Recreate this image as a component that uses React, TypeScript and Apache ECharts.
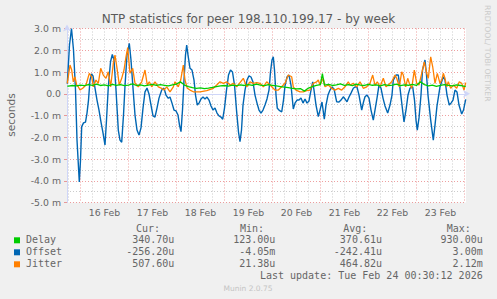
import React, { useEffect, useRef } from "react";
import * as echarts from "echarts";

// hours since 15 Feb 00:00, values in milliseconds
const offsetData: [number, number][] = [
  [17.45,0.46],[18.55,2.24],[19.55,3.0],[20.55,2.01],[21.55,0.17],[22.3,-2.13],[23.45,-4.05],[24.05,-3.05],[24.65,-1.51],[25.55,-1.34],[26.55,-1.3],[27.3,-0.89],[28.05,-0.29],[28.8,0.63],[29.55,0.91],[30.3,0.82],[31.3,0.26],[32.3,-0.29],[33.3,-0.75],[34.3,-1.3],[35.3,-1.8],[36.3,-2.36],[37.05,-1.21],[37.95,0.32],[39.05,1.46],[39.95,1.81],[40.8,1.55],[41.8,0.17],[42.95,-1.67],[43.8,-2.13],[44.65,-2.23],[45.55,-0.98],[46.3,0.36],[47.3,1.78],[48.45,2.32],[49.3,1.55],[50.3,0.26],[51.3,-0.98],[52.3,-1.67],[53.3,-1.9],[54.3,-1.57],[55.3,-0.66],[56.3,0.09],[57.3,0.26],[58.3,-0.01],[59.3,-0.52],[60.3,-1.02],[61.3,-1.07],[62.3,-0.66],[63.3,-0.2],[64.65,0.17],[65.8,0.26],[66.8,-0.06],[67.95,-0.21],[68.8,-0.15],[69.8,-0.43],[70.8,-0.75],[71.8,-0.79],[72.8,-0.98],[73.55,-1.44],[74.3,-1.74],[75.05,-0.75],[75.8,0.63],[76.55,1.78],[77.15,2.24],[77.8,1.78],[78.8,1.17],[79.8,1.09],[80.8,0.63],[81.55,-0.06],[82.45,-0.52],[83.3,-0.43],[84.3,-0.24],[85.3,-0.15],[86.3,-0.24],[87.3,-0.15],[88.3,-0.29],[89.3,-0.56],[90.3,-0.75],[91.3,-0.66],[92.3,-0.89],[93.3,-1.02],[94.3,-1.07],[95.15,-1.17],[96.05,-0.66],[97.05,0.17],[98.05,0.86],[99.05,1.09],[100.05,1.0],[101.05,0.4],[102.05,-0.75],[103.05,-1.76],[103.8,-2.2],[104.55,-1.67],[105.3,-0.52],[106.3,0.17],[107.3,0.63],[108.3,0.82],[109.3,0.77],[110.3,0.54],[111.3,-0.06],[112.3,-0.43],[113.3,-0.75],[114.3,-0.89],[115.3,-0.75],[116.3,-0.52],[117.3,-0.24],[118.3,0.17],[119.05,1.0],[119.8,1.55],[120.45,1.7],[121.05,1.09],[121.8,-0.06],[122.45,-0.67],[123.3,-0.75],[124.65,-0.84],[125.55,-0.29],[126.3,0.36],[127.3,0.77],[128.3,0.86],[129.3,0.4],[130.45,-0.7],[131.3,-0.43],[132.3,-0.29],[133.3,-0.29],[134.3,-0.2],[135.3,-0.43],[136.3,-0.24],[137.3,-0.43],[138.3,-0.33],[139.3,0.17],[140.15,0.55],[140.8,0.17],[141.8,-0.52],[142.95,-1.05],[143.8,-0.75],[144.8,-0.38],[145.95,-1.17],[146.8,-0.52],[147.8,-0.06],[148.8,0.17],[149.8,0.31],[150.8,0.22],[152.15,-0.37],[153.3,-0.38],[154.3,-0.29],[155.45,-0.14],[156.3,-0.24],[157.3,-0.37],[158.3,-0.15],[159.3,0.03],[160.45,0.25],[161.3,0.31],[162.3,0.32],[163.3,-0.06],[164.65,-0.75],[165.55,-0.38],[166.3,-0.14],[167.3,-0.06],[168.3,-0.2],[169.3,-0.75],[170.45,-1.21],[171.3,-0.75],[172.3,-0.2],[173.3,0.4],[174.3,0.26],[175.3,-0.2],[176.3,-0.56],[177.65,-0.89],[178.8,-0.52],[179.8,-0.06],[180.45,0.63],[181.8,0.86],[182.95,0.86],[183.8,0.26],[184.8,-0.52],[185.8,-1.29],[186.8,-0.75],[187.8,-0.06],[188.8,0.26],[190.15,0.32],[191.05,-0.29],[191.8,-1.21],[192.45,-1.67],[193.3,-1.11],[194.3,-0.06],[195.05,1.09],[196.3,1.55],[197.05,0.86],[197.8,-0.06],[199.15,-1.21],[200.45,-2.13],[201.3,-1.44],[202.3,-0.56],[203.8,0.32],[205.45,0.78],[206.3,0.63],[207.3,-0.06],[208.45,-0.52],[209.3,-0.43],[210.3,-0.29],[211.3,0.17],[212.3,0.08],[213.3,-0.52],[214.65,-0.93],[215.55,-0.75],[216.65,-0.26]
];

const jitterData: [number, number][] = [
  [17.45,0.48],[18.8,1.32],[19.65,1.09],[20.45,0.55],[21.3,0.78],[22.15,0.4],[22.95,0.32],[23.8,0.17],[25.15,0.25],[26.8,0.4],[28.45,0.94],[29.65,0.78],[30.45,0.32],[31.8,0.63],[32.95,0.48],[34.15,1.17],[35.45,0.86],[36.8,0.71],[37.95,1.01],[39.15,0.32],[40.45,1.4],[41.3,1.78],[42.45,1.09],[43.45,0.4],[44.65,0.71],[45.8,1.09],[46.8,1.7],[47.65,2.12],[48.8,0.94],[50.15,1.17],[51.3,0.48],[52.95,0.32],[54.65,0.55],[56.3,1.09],[57.45,0.4],[58.45,0.55],[59.65,0.32],[61.3,0.55],[62.95,0.32],[64.65,0.25],[65.8,0.17],[67.15,0.32],[68.8,0.09],[70.45,0.32],[71.3,0.55],[72.95,0.32],[74.15,0.63],[75.45,1.32],[76.3,0.63],[77.45,0.25],[78.8,0.17],[80.45,0.09],[83.8,0.09],[87.15,0.14],[90.45,0.25],[92.15,0.4],[93.8,0.55],[95.45,0.48],[97.15,0.55],[98.8,0.4],[100.45,0.48],[102.15,0.32],[105.45,0.71],[107.15,0.32],[108.8,0.55],[110.45,0.48],[112.15,0.51],[113.8,0.48],[115.45,0.32],[117.15,0.55],[118.8,0.4],[121.3,0.17],[122.95,0.17],[124.65,0.32],[126.3,0.48],[127.95,0.86],[129.65,0.78],[130.45,0.32],[131.8,0.17],[133.8,0.09],[135.45,0.09],[137.15,0.14],[138.8,0.17],[140.45,0.48],[142.15,0.55],[142.95,0.63],[143.8,0.4],[145.45,0.71],[146.3,0.32],[147.95,0.4],[149.65,0.25],[151.3,0.17],[152.95,0.25],[154.65,0.17],[156.3,0.32],[157.95,0.55],[158.8,0.4],[160.45,0.48],[162.15,0.32],[163.8,0.55],[165.45,0.25],[167.15,0.32],[168.8,0.48],[170.15,0.86],[171.3,0.4],[172.45,0.55],[173.8,0.32],[175.45,0.71],[176.8,0.32],[177.95,0.4],[179.65,0.55],[181.3,0.86],[182.15,0.71],[183.45,0.32],[184.65,1.01],[185.45,0.86],[186.65,0.32],[187.65,0.71],[188.45,0.48],[189.65,0.25],[190.95,1.09],[192.15,0.48],[193.3,0.4],[194.65,0.94],[195.95,1.47],[197.15,0.94],[197.95,0.71],[199.15,1.7],[200.15,1.24],[201.3,0.48],[202.45,0.94],[203.8,0.48],[204.65,0.63],[205.45,0.94],[206.3,0.71],[207.15,0.32],[207.95,0.55],[209.15,0.25],[210.45,0.4],[212.15,0.25],[213.45,0.55],[214.65,0.48],[215.8,0.17],[216.65,0.51]
];

const delayData: [number, number][] = [
  [17.45,0.35],[18,0.35],[20,0.38],[22,0.36],[24,0.40],[26,0.37],[28,0.42],[30,0.39],[32,0.44],[34,0.38],[36,0.41],[38,0.36],[40,0.43],[42,0.39],[44,0.42],[46,0.37],[48,0.40],[50,0.45],[52,0.38],[54,0.41],[56,0.36],[58,0.40],[60,0.43],[62,0.38],[64,0.42],[66,0.39],[68,0.36],[70,0.41],[72,0.44],[74,0.55],[76,0.40],[78,0.33],[80,0.28],[82,0.25],[84,0.27],[86,0.24],[88,0.26],[90,0.29],[92,0.33],[94,0.36],[96,0.38],[98,0.35],[100,0.40],[102,0.37],[104,0.41],[106,0.38],[108,0.42],[110,0.39],[112,0.44],[114,0.40],[116,0.37],[118,0.42],[120,0.39],[122,0.36],[124,0.33],[126,0.30],[128,0.28],[130,0.25],[132,0.22],[134,0.24],[136,0.12],[138,0.26],[140,0.33],[142,0.38],[144,0.42],[145,0.93],[146,0.40],[148,0.43],[150,0.38],[152,0.41],[154,0.45],[156,0.39],[158,0.42],[160,0.37],[162,0.44],[164,0.40],[166,0.38],[168,0.43],[170,0.39],[172,0.41],[174,0.36],[176,0.42],[178,0.38],[180,0.40],[182,0.44],[184,0.37],[186,0.41],[188,0.39],[190,0.43],[192,0.38],[194,0.55],[196,0.42],[198,0.36],[200,0.40],[202,0.34],[204,0.38],[206,0.42],[208,0.39],[210,0.36],[212,0.41],[214,0.38],[216,0.34],[216.65,0.34]
];

const dayLabels = ["16 Feb", "17 Feb", "18 Feb", "19 Feb", "20 Feb", "21 Feb", "22 Feb", "23 Feb"];
const labelHours = [36, 60, 84, 108, 132, 156, 180, 204];
const majorHours = [24, 48, 72, 96, 120, 144, 168, 192, 216];
const minorHours = [18, 30, 36, 42, 54, 60, 66, 78, 84, 90, 102, 108, 114, 126, 132, 138, 150, 156, 162, 174, 180, 186, 198, 204, 210];

const legendNames = ["Delay", "Offset", "Jitter"];
const legendColors = ["#00CC00", "#0066B3", "#FF8000"];
const curValues = ["340.70u", "-256.20u", "507.60u"];
const minValues = ["123.00u", "-4.05m", "21.38u"];
const avgValues = ["370.61u", "-242.41u", "464.82u"];
const maxValues = ["930.00u", "3.00m", "2.12m"];

const X_MIN = 17.3;
const X_MAX = 216.8;
const MONO = '10px "DejaVu Sans Mono"';
const FG = "#666666";
const MGRID = "rgba(224,80,80,0.55)";
const GRID = "rgba(140,140,140,0.45)";
const AXIS = "#CFD6F8";

function txt(text: string, x: number, y: number, align: string, font: string, fill = FG, extra: any = {}) {
  return {
    type: "text",
    x,
    y,
    silent: true,
    ...extra,
    style: {
      text,
      font,
      fill,
      align,
      verticalAlign: "middle",
      textAlign: align,
      textVerticalAlign: "middle",
    },
  };
}

export default function App() {
  const ref = useRef<HTMLDivElement>(null);
  useEffect(() => {
    if (!ref.current) return;
    const chart = echarts.init(ref.current, undefined, { renderer: "svg" });
    const rowsY = [239.6, 251.6, 263.6];
    const graphic: any[] = [
      txt("NTP statistics for peer 198.110.199.17 - by week", 248.5, 19, "center", '12px "DejaVu Sans"', "#5a5a5a"),
      txt("seconds", 11, 115, "center", '10.7px "DejaVu Sans"', FG, { rotation: Math.PI / 2 }),
      txt("RRDTOOL/ TOBI OETIKER", 487.5, 5, "left", '7.7px "DejaVu Sans"', "#cccccc", { rotation: -Math.PI / 2 }),
      txt("Cur:", 136, 228, "left", MONO),
      txt("Min:", 240, 228, "left", MONO),
      txt("Avg:", 343.3, 228, "left", MONO),
      txt("Max:", 446.7, 228, "left", MONO),
      txt("Last update: Tue Feb 24 00:30:12 2026", 482.7, 275.6, "right", MONO),
      txt("Munin 2.0.75", 248, 288, "center", '7.5px "DejaVu Sans"', "#c4c4c4"),
    ];
    legendNames.forEach((n, i) => {
      const y = rowsY[i];
      graphic.push({ type: "rect", silent: true, shape: { x: 14, y: y - 2.3, width: 6, height: 6 }, style: { fill: legendColors[i] } });
      graphic.push(txt(n, 26, y, "left", MONO));
      graphic.push(txt(curValues[i], 174.3, y, "right", MONO));
      graphic.push(txt(minValues[i], 275.3, y, "right", MONO));
      graphic.push(txt(avgValues[i], 382, y, "right", MONO));
      graphic.push(txt(maxValues[i], 482.7, y, "right", MONO));
    });

    const gridAxisBase = {
      type: "value",
      min: X_MIN,
      max: X_MAX,
      axisLine: { show: false },
      axisLabel: { show: false },
    };

    chart.setOption({
      animation: false,
      backgroundColor: "#F0F0F0",
      grid: { left: 67, top: 28.5, width: 399, height: 174, show: true, backgroundColor: "#FFFFFF", borderWidth: 0 },
      xAxis: [
        {
          type: "value",
          min: X_MIN,
          max: X_MAX,
          position: "bottom",
          axisLine: {
            show: true,
            lineStyle: { color: AXIS, width: 1 },
            symbol: ["none", "arrow"],
            symbolSize: [6, 7],
            symbolOffset: [0, 4],
          },
          axisTick: { show: false, customValues: labelHours },
          axisLabel: {
            customValues: labelHours,
            margin: 5,
            color: FG,
            fontFamily: "DejaVu Sans",
            fontSize: 9.33,
            formatter: (v: number) => dayLabels[Math.round((v - 36) / 24)] ?? "",
          },
          splitLine: { show: false },
          z: 3,
        },
        {
          ...gridAxisBase,
          axisTick: { show: false, customValues: majorHours },
          splitLine: { show: true, lineStyle: { color: MGRID, type: [1, 2], width: 1 } },
        },
        {
          ...gridAxisBase,
          axisTick: { show: false, customValues: minorHours },
          splitLine: { show: true, lineStyle: { color: GRID, type: [1, 2], width: 1 } },
        },
      ],
      yAxis: {
        type: "value",
        min: -5,
        max: 3,
        interval: 1,
        axisLine: {
          show: true,
          lineStyle: { color: AXIS, width: 1 },
          symbol: ["none", "arrow"],
          symbolSize: [6, 7],
          symbolOffset: [0, 4],
        },
        axisTick: { show: true, length: 3, lineStyle: { color: MGRID } },
        axisLabel: {
          margin: 6,
          color: FG,
          fontFamily: "DejaVu Sans",
          fontSize: 9.33,
          formatter: (v: number) => (v === 0 ? "0.0" : v.toFixed(1) + " m"),
        },
        splitLine: { show: true, lineStyle: { color: MGRID, type: [1, 2], width: 1 } },
        minorTick: { show: false, splitNumber: 2 },
        minorSplitLine: { show: true, lineStyle: { color: GRID, type: [1, 2], width: 1 } },
        z: 3,
      },
      series: [
        {
          name: "Offset", type: "line", data: offsetData, showSymbol: false, symbol: "none",
          lineStyle: { color: legendColors[1], width: 1.4 }, itemStyle: { color: legendColors[1] }, z: 4,
        },
        {
          name: "Jitter", type: "line", data: jitterData, showSymbol: false, symbol: "none",
          lineStyle: { color: legendColors[2], width: 1.3 }, itemStyle: { color: legendColors[2] }, z: 5,
        },
        {
          name: "Delay", type: "line", data: delayData, showSymbol: false, symbol: "none",
          lineStyle: { color: legendColors[0], width: 1.3 }, itemStyle: { color: legendColors[0] }, z: 6,
        },
      ],
      graphic,
    });
    return () => chart.dispose();
  }, []);
  return (
    <div
      ref={ref}
      style={{ position: "fixed", left: 0, top: 0, width: 497, height: 299 }}
    />
  );
}
